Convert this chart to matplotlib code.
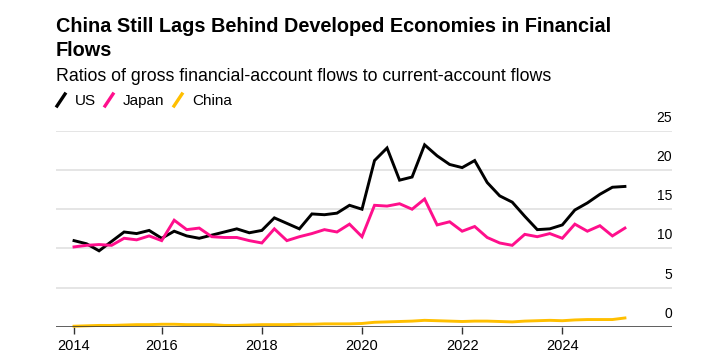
import numpy as np
import matplotlib.pyplot as plt
from matplotlib.lines import Line2D

plt.rcParams['font.family'] = ['Liberation Sans', 'DejaVu Sans']

#%% data, quarterly 2014 Q1 - 2025 Q1
start_year = 2014
us = [11.0, 10.6, 9.7, 10.9, 12.1, 11.9, 12.3, 11.3, 12.2, 11.6, 11.3, 11.7,
      12.1, 12.5, 12.0, 12.3, 13.9, 13.2, 12.5, 14.4, 14.3, 14.5, 15.5, 15.0,
      21.2, 22.8, 18.7, 19.1, 23.2, 21.8, 20.7, 20.3, 21.2, 18.4, 16.7, 15.9,
      14.1, 12.4, 12.5, 13.0, 14.9, 15.8, 16.9, 17.8, 17.9]
japan = [10.2, 10.4, 10.5, 10.4, 11.3, 11.1, 11.6, 11.0, 13.6, 12.4, 12.6, 11.5,
         11.4, 11.4, 11.0, 10.7, 12.5, 11.0, 11.5, 11.9, 12.4, 12.1, 13.1, 11.5,
         15.5, 15.4, 15.7, 15.0, 16.3, 13.0, 13.4, 12.2, 12.8, 11.4, 10.7, 10.4,
         11.8, 11.5, 11.9, 11.3, 13.1, 12.2, 12.9, 11.6, 12.6]
china = [0.1, 0.15, 0.2, 0.2, 0.25, 0.3, 0.3, 0.35, 0.35, 0.3, 0.3, 0.3,
         0.2, 0.2, 0.25, 0.3, 0.3, 0.3, 0.35, 0.35, 0.4, 0.4, 0.4, 0.45,
         0.6, 0.65, 0.7, 0.75, 0.85, 0.8, 0.75, 0.7, 0.75, 0.75, 0.7, 0.65,
         0.75, 0.8, 0.85, 0.8, 0.9, 0.95, 0.95, 0.95, 1.15]
x_ticks = [2014.25, 2016, 2018, 2020, 2022, 2024]
x_labels = ['2014', '2016', '2018', '2020', '2022', '2024']
y_ticks = [0, 5, 10, 15, 20, 25]

series = [('US', us, 'black'), ('Japan', japan, '#ff0f8c'), ('China', china, '#ffbf00')]

t = start_year + 0.25 * (np.arange(len(us)) + 1)

#%%
fig = plt.figure(figsize=(7.01, 3.61), dpi=100)
ax = fig.add_axes([56/701, 1 - 327/361, 616/701, 196.3/361])

for name, vals, col in series:
    ax.plot(t, vals, color=col, linewidth=2.1, solid_joinstyle='miter', zorder=3, clip_on=False)

ax.set_xlim(2013.89, 2026.19)
ax.set_ylim(0, 25)

for v in y_ticks[1:]:
    ax.axhline(v, color='#e3e3e3', linewidth=1.3, zorder=1)
ax.axhline(0, color='#333333', linewidth=1.1, zorder=4)
for v in y_ticks:
    ax.text(1.0, v + 1.15, str(v), transform=ax.get_yaxis_transform(), ha='right', va='baseline',
            fontsize=10, color='black')

for s in ax.spines.values():
    s.set_visible(False)
ax.set_yticks([])
ax.set_xticks(x_ticks)
ax.set_xticklabels(x_labels, fontsize=10.5)
ax.tick_params(axis='x', length=5, width=1, color='#333333', pad=4)

#%% titles and legend
fig.text(56/701, 1 - 32/361, 'China Still Lags Behind Developed Economies in Financial',
         fontsize=14.3, fontweight='bold', va='baseline')
fig.text(56/701, 1 - 55.5/361, 'Flows', fontsize=14.3, fontweight='bold', va='baseline')
fig.text(56/701, 1 - 81/361, 'Ratios of gross financial-account flows to current-account flows',
         fontsize=12.8, va='baseline')

leg_x = [57, 105, 174]
for (name, vals, col), lx in zip(series, leg_x):
    fig.add_artist(Line2D([lx/701, (lx + 8)/701], [1 - 106/361, 1 - 94/361],
                          color=col, linewidth=2.4, transform=fig.transFigure))
    fig.text((lx + 18)/701, 1 - 105/361, name, fontsize=11, va='baseline')

fig.savefig('out.png', dpi=100)
